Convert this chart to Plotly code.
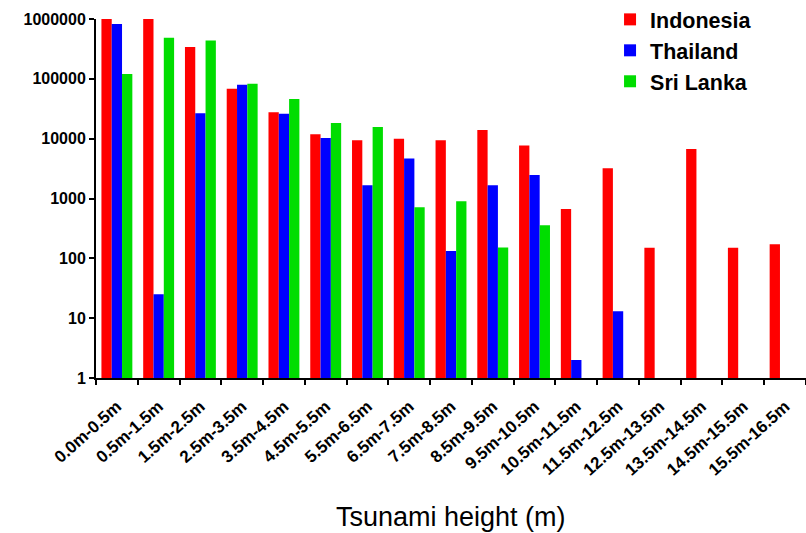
import plotly.graph_objects as go

categories = ["0.0m-0.5m", "0.5m-1.5m", "1.5m-2.5m", "2.5m-3.5m", "3.5m-4.5m",
              "4.5m-5.5m", "5.5m-6.5m", "6.5m-7.5m", "7.5m-8.5m", "8.5m-9.5m",
              "9.5m-10.5m", "10.5m-11.5m", "11.5m-12.5m", "12.5m-13.5m",
              "13.5m-14.5m", "14.5m-15.5m", "15.5m-16.5m"]

indonesia = [1000000, 1000000, 339000, 68000, 27700, 11900, 9400, 10000, 9400,
             13900, 7700, 670, 3200, 150, 6700, 150, 172]
thailand = [822000, 25, 26700, 79400, 26000, 10300, 1670, 4650, 133,
            1670, 2480, 2, 13, None, None, None, None]
sri_lanka = [121000, 485000, 437000, 82400, 45800, 18200, 15700, 715, 900,
             151, 357, None, None, None, None, None, None]

series_names = ["Indonesia", "Thailand", "Sri Lanka"]
series_colors = ["#FF0000", "#0000FF", "#00DD00"]

ytick_vals = [1, 10, 100, 1000, 10000, 100000, 1000000]
ytick_text = ["1", "10", "100", "1000", "10000", "100000", "1000000"]

FONT = "Liberation Sans, Arial, sans-serif"

fig = go.Figure()
for name, vals, col in zip(series_names, [indonesia, thailand, sri_lanka], series_colors):
    fig.add_trace(go.Bar(x=categories, y=vals, name=name, marker_color=col,
                         marker_line_width=0))

fig.update_layout(
    width=806, height=533,
    margin=dict(l=96, r=0, t=19, b=155, autoexpand=False),
    paper_bgcolor="white", plot_bgcolor="white",
    barmode="group", bargap=0.26, bargroupgap=0,
    font=dict(family=FONT, color="black"),
    showlegend=True,
    legend=dict(x=0.724, y=1.056, xanchor="left", yanchor="top",
                font=dict(family=FONT, size=21.5, color="black", weight="bold"),
                itemwidth=30, tracegroupgap=0, bgcolor="rgba(0,0,0,0)"),
    annotations=[dict(text="Tsunami height (m)", xref="paper", yref="paper",
                      x=0.5, y=-0.387, xanchor="center", yanchor="middle",
                      showarrow=False,
                      font=dict(family=FONT, size=27, color="black"))],
)
fig.update_xaxes(
    type="category", showline=True, linecolor="black", linewidth=2,
    ticks="outside", tickson="boundaries", ticklen=5, tickwidth=2, tickcolor="black",
    tickangle=-42, ticklabelstandoff=10,
    tickfont=dict(family=FONT, size=17, color="black", weight="bold"),
    showgrid=False, zeroline=False, automargin=False,
)
fig.update_yaxes(
    type="log", range=[0, 6], showline=True, linecolor="black", linewidth=2,
    ticks="outside", ticklen=5, tickwidth=2, tickcolor="black",
    tickvals=ytick_vals, ticktext=ytick_text,
    tickfont=dict(family=FONT, size=16, color="black", weight="bold"),
    showgrid=False, zeroline=False, automargin=False,
)

fig.write_html("out.html", config={"displayModeBar": False},
               post_script="document.body.style.margin='0';document.body.style.overflow='hidden';")
